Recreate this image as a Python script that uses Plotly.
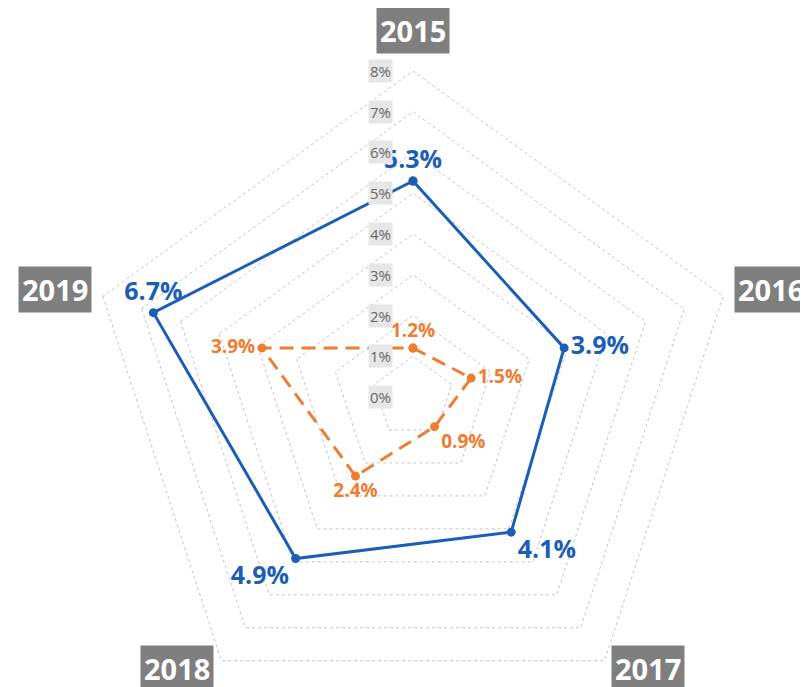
import plotly.graph_objects as go

# data
years = ['2015', '2016', '2017', '2018', '2019']
blue_vals = [5.3, 3.9, 4.1, 4.9, 6.7]
orange_vals = [1.2, 1.5, 0.9, 2.4, 3.9]
radial_ticks = [0, 1, 2, 3, 4, 5, 6, 7, 8]

BLUE = '#1b5eb5'
ORANGE = '#ed7d31'
FONT = 'Open Sans'

# page body has an 8px margin; the figure is taller than the window so the
# bottom year labels are clipped as in the original
OFF = 8
W, H = 800, 740
CX, CY = 413 - OFF, 397 - OFF
R8 = 326                      # pixel radius of the 8% ring
RMAX = 8.05
R = R8 * RMAX / 8             # pixel radius of the whole polar area


def closed(v):
    return v + v[:1]


fig = go.Figure()

fig.add_trace(go.Scatterpolar(
    r=closed(blue_vals),
    theta=closed(years),
    mode='lines+markers+text',
    line=dict(color=BLUE, width=3),
    marker=dict(color=BLUE, size=9),
    text=[f'{v}%' for v in blue_vals] + [''],
    textposition=['top center', 'middle right', 'bottom right', 'bottom left', 'top center', 'top center'],
    textfont=dict(family=FONT, size=25, color=BLUE, weight='bold'),
    cliponaxis=False,
    showlegend=False,
))

fig.add_trace(go.Scatterpolar(
    r=closed(orange_vals),
    theta=closed(years),
    mode='lines+markers+text',
    line=dict(color=ORANGE, width=3, dash='14px,8px'),
    marker=dict(color=ORANGE, size=9),
    text=[f'{v}%' for v in orange_vals] + [''],
    textposition=['top center', 'middle right', 'bottom right', 'bottom center', 'middle left', 'top center'],
    textfont=dict(family=FONT, size=19, color=ORANGE, weight='bold'),
    cliponaxis=False,
    showlegend=False,
))

# radial tick labels with grey background
annotations = []
for v in radial_ticks:
    annotations.append(dict(
        x=(CX - 20) / W, y=1 - (CY - v * R8 / 8) / H,
        xref='paper', yref='paper', xanchor='right', yanchor='middle',
        text=f'{v}%', showarrow=False,
        font=dict(family=FONT, size=15, color='#666666'),
        bgcolor='#e6e6e6', borderpad=1,
    ))

# category labels, dark boxes (window pixel positions)
label_pos = [(413, 30), (771, 289), (648, 668), (177, 668), (55, 289)]
for name, (px_, py_) in zip(years, label_pos):
    annotations.append(dict(
        x=(px_ - OFF) / W, y=1 - (py_ - OFF) / H,
        xref='paper', yref='paper', xanchor='center', yanchor='middle',
        text=name, showarrow=False,
        font=dict(family=FONT, size=29, color='white', weight='bold'),
        bgcolor='#7f7f7f', borderpad=3,
    ))

fig.update_layout(
    width=W, height=H,
    margin=dict(l=0, r=0, t=0, b=0),
    paper_bgcolor='white',
    font=dict(family=FONT),
    polar=dict(
        domain=dict(x=[(CX - R) / W, (CX + R) / W], y=[(H - CY - R) / H, (H - CY + R) / H]),
        gridshape='linear',
        bgcolor='white',
        radialaxis=dict(
            range=[0, RMAX], tickvals=radial_ticks, showticklabels=False,
            showline=False, ticks='', gridcolor='#c4c4c4', griddash='dot', gridwidth=1,
        ),
        angularaxis=dict(
            direction='clockwise', rotation=90, showticklabels=False,
            showgrid=False, showline=False, ticks='',
        ),
    ),
    annotations=annotations,
)

fig.write_html("out.html")
